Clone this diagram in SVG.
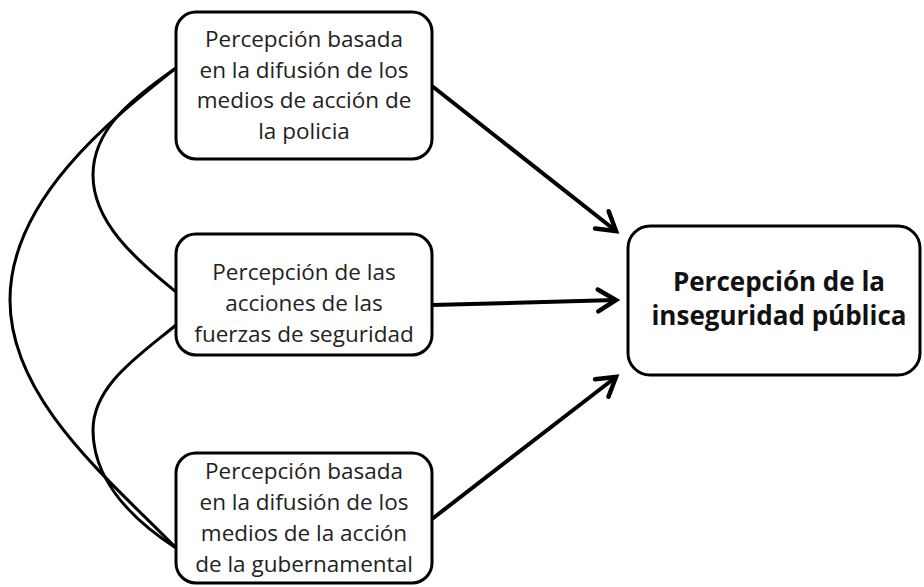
<svg xmlns="http://www.w3.org/2000/svg" width="924" height="587" viewBox="0 0 924 587">
<style>
.box{fill:#fff;stroke:#000;stroke-width:3}
.t{font-family:"Open Sans","Liberation Sans",sans-serif;font-size:22.5px;fill:#222;text-anchor:middle}
.tb{font-family:"Open Sans","Liberation Sans",sans-serif;font-size:26px;font-weight:bold;fill:#111;text-anchor:middle}
.arr{fill:none;stroke:#000;stroke-width:4;marker-end:url(#ah)}
.cur{fill:none;stroke:#000;stroke-width:3}
</style>
<defs>
<marker id="ah" markerUnits="userSpaceOnUse" markerWidth="30" markerHeight="30" viewBox="-22 -15 26 30" refX="0" refY="0" orient="auto">
<path d="M-18,-11 L0,0 L-18,11" fill="none" stroke="#000" stroke-width="4.5" stroke-linecap="round" stroke-linejoin="miter"/>
</marker>
</defs>
<rect width="924" height="587" fill="#fff"/>
<g id="connectors">
<path class="cur" d="M176,68 C110,120 10,200 10,300 C10,400 110,480 176,548"/>
<path class="cur" d="M176,68 C130,100 93,130 93,175 C93,225 140,262 176,292"/>
<path class="cur" d="M176,325 C140,355 93,385 93,430 C93,475 125,515 176,548"/>
<path class="arr" d="M432,86 L616,231"/>
<path class="arr" d="M432,305 L616,300"/>
<path class="arr" d="M432,519 L616,377"/>
</g>
<g id="n1">
<rect class="box" x="176" y="12" width="256" height="147" rx="20"/>
<text class="t" x="304" y="47">Percepción basada</text>
<text class="t" x="304" y="78">en la difusión de los</text>
<text class="t" x="304" y="108">medios de acción de</text>
<text class="t" x="304" y="139">la policia</text>
</g>
<g id="n2">
<rect class="box" x="176" y="234" width="256" height="121" rx="20"/>
<text class="t" x="304" y="280">Percepción de las</text>
<text class="t" x="304" y="311">acciones de las</text>
<text class="t" x="304" y="342">fuerzas de seguridad</text>
</g>
<g id="n3">
<rect class="box" x="176" y="453" width="256" height="130" rx="20"/>
<text class="t" x="304" y="479">Percepción basada</text>
<text class="t" x="304" y="510">en la difusión de los</text>
<text class="t" x="304" y="541">medios de la acción</text>
<text class="t" x="304" y="572">de la gubernamental</text>
</g>
<g id="n4">
<rect class="box" x="628" y="226" width="292" height="149" rx="22"/>
<text class="tb" x="779" y="291">Percepción de la</text>
<text class="tb" x="779" y="325">inseguridad pública</text>
</g>
</svg>
